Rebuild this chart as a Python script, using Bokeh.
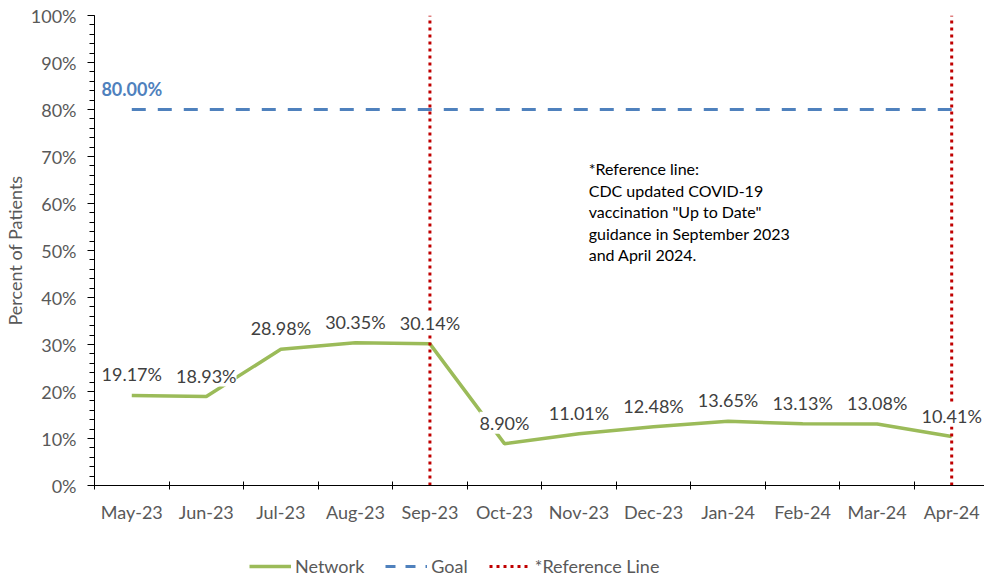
from bokeh.plotting import figure
from bokeh.layouts import column
from bokeh.models import (ColumnDataSource, LabelSet, Label, Legend, LegendItem,
                          FixedTicker, NumeralTickFormatter, Range1d)
from bokeh.core.properties import value
from bokeh.embed import file_html
from bokeh.resources import INLINE

months = ["May-23", "Jun-23", "Jul-23", "Aug-23", "Sep-23", "Oct-23",
          "Nov-23", "Dec-23", "Jan-24", "Feb-24", "Mar-24", "Apr-24"]
network = [19.17, 18.93, 28.98, 30.35, 30.14, 8.90, 11.01, 12.48, 13.65, 13.13, 13.08, 10.41]
goal = [80.0] * 12
ref_months = ["Sep-23", "Apr-24"]
note = ('*Reference line:\nCDC updated COVID-19\nvaccination "Up to Date"\n'
        'guidance in September 2023\nand April 2024.')
series_names = ["Network", "Goal", "*Reference Line"]

FONT = "Lato"
GREY = "#595959"
FS = "18px"
GREEN, BLUE, RED = "#9BBB59", "#4F81BD", "#C00000"

idx = list(range(len(months)))
src = ColumnDataSource(dict(
    x=idx,
    y=[v / 100 for v in network],
    g=[v / 100 for v in goal],
    lab=[f"{v:.2f}%" for v in network],
))
ref_x = [months.index(m) for m in ref_months]
ref_src = ColumnDataSource(dict(x0=ref_x, x1=ref_x, y0=[0] * len(ref_x), y1=[1] * len(ref_x)))

p = figure(width=984, height=525, output_backend="svg", toolbar_location=None,
           x_range=Range1d(-0.5, 11.44), y_range=Range1d(0, 1),
           min_border_left=84, min_border_right=0, min_border_top=15, min_border_bottom=39)
p.outline_line_color = None
p.xgrid.visible = False
p.ygrid.visible = False
p.background_fill_color = "white"

# axes
xa = p.xaxis[0]
xa.ticker = FixedTicker(ticks=idx, minor_ticks=[i - 0.5 for i in range(len(months) + 1)])
xa.major_label_overrides = {i: m for i, m in enumerate(months)}
xa.major_tick_line_color = None
xa.major_tick_in = 0
xa.major_tick_out = 0
xa.minor_tick_in = 4
xa.minor_tick_out = 4
xa.minor_tick_line_color = "black"
xa.axis_line_color = "black"
xa.major_label_text_font = FONT
xa.major_label_text_font_size = FS
xa.major_label_text_color = GREY
xa.major_label_standoff = 11

ya = p.yaxis[0]
ya.ticker = FixedTicker(ticks=[i / 10 for i in range(11)], minor_ticks=[i / 50 for i in range(51)])
ya.formatter = NumeralTickFormatter(format="0%")
ya.major_tick_in = 0
ya.major_tick_out = 7
ya.minor_tick_in = 0
ya.minor_tick_out = 5
ya.major_tick_line_color = "black"
ya.minor_tick_line_color = "black"
ya.axis_line_color = "black"
ya.major_label_text_font = FONT
ya.major_label_text_font_size = FS
ya.major_label_text_color = GREY
ya.major_label_standoff = 11
ya.axis_label = "Percent of Patients"
ya.axis_label_text_font = FONT
ya.axis_label_text_font_size = FS
ya.axis_label_text_font_style = "normal"
ya.axis_label_text_color = GREY
ya.axis_label_standoff = 2

# series
NET_STYLE = dict(line_color=GREEN, line_width=3.5)
GOAL_STYLE = dict(line_color=BLUE, line_width=3, line_dash="14 12")
REF_STYLE = dict(line_color=RED, line_width=3, line_dash="3 4")

p.line("x", "y", source=src, **NET_STYLE)
p.line("x", "g", source=src, **GOAL_STYLE)
p.segment("x0", "y0", "x1", "y1", source=ref_src, **REF_STYLE)

# data labels
labels = LabelSet(x="x", y="y", text="lab", source=src, y_offset=21,
                  text_align="center", text_baseline="middle",
                  text_font=value(FONT), text_font_size=value(FS), text_color="#404040",
                  background_fill_color="white")
p.add_layout(labels)

goal_label = Label(x=0, y=goal[0] / 100, y_offset=21, text=f"{goal[0]:.2f}%",
                   text_align="center", text_baseline="middle", text_font=FONT,
                   text_font_size=FS, text_font_style="bold", text_color=BLUE)
p.add_layout(goal_label)

note_label = Label(x=6.13, y=0.694, text=note, text_align="left", text_baseline="top",
                   text_font=FONT, text_font_size="16px", text_color="black",
                   text_line_height=1.13)
p.add_layout(note_label)

# legend strip below the chart
q = figure(width=984, height=53, output_backend="svg", toolbar_location=None,
           x_range=Range1d(0, 1), y_range=Range1d(0, 1),
           min_border_left=0, min_border_right=0, min_border_top=0, min_border_bottom=0)
q.outline_line_color = None
q.axis.visible = False
q.xgrid.visible = False
q.ygrid.visible = False
nan = float("nan")
empty = ColumnDataSource(dict(x=[nan], y=[nan]))
l_net = q.line("x", "y", source=empty, **NET_STYLE)
l_goal = q.line("x", "y", source=empty, line_color=BLUE, line_width=3, line_dash="10 10")
l_ref = q.line("x", "y", source=empty, **REF_STYLE)

legend = Legend(items=[LegendItem(label=series_names[0], renderers=[l_net]),
                       LegendItem(label=series_names[1], renderers=[l_goal]),
                       LegendItem(label=series_names[2], renderers=[l_ref])],
                location=(155, 1), orientation="horizontal",
                label_text_font=FONT, label_text_font_size=FS, label_text_color=GREY,
                glyph_width=42, glyph_height=20, label_standoff=4, spacing=21,
                padding=0, margin=0, border_line_color=None, background_fill_alpha=0)
q.add_layout(legend, "center")

layout = column(p, q, spacing=0)
open("out.html", "w").write(file_html(layout, INLINE))
